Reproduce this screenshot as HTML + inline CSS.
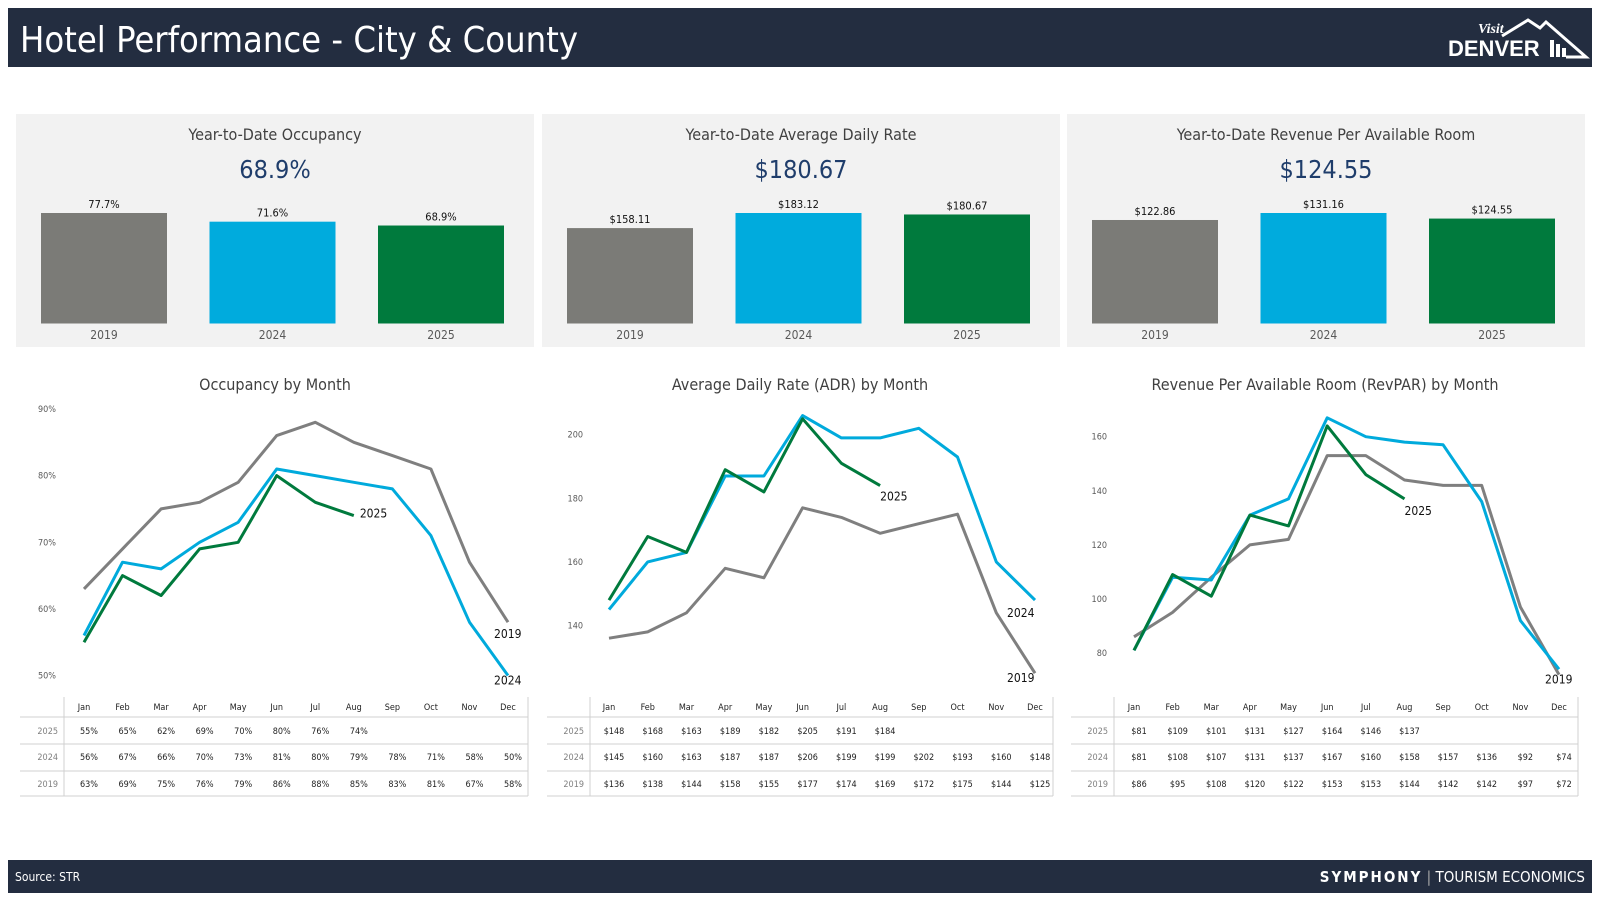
<!DOCTYPE html>
<html><head><meta charset="utf-8">
<style>
html,body{margin:0;padding:0;background:#fff;}
svg{display:block;font-family:"DejaVu Sans Condensed","Liberation Sans",sans-serif;}
</style></head>
<body>
<svg id="root" width="1600" height="900" viewBox="0 0 1600 900" xmlns="http://www.w3.org/2000/svg">
  <rect x="8" y="8" width="1584" height="59" fill="#232d40"/>
  <text x="20" y="52" font-size="36" fill="#fff">Hotel Performance - City &amp; County</text>
  <g>
    <text x="1478" y="33" font-size="14" font-style="italic" font-weight="bold" fill="#fff" font-family="Liberation Serif, serif">Visit</text>
    <text x="1448" y="56" font-size="22" font-weight="bold" fill="#fff" font-family="Liberation Sans, sans-serif">DENVER</text>
    <polyline points="1502,36 1528,20 1540,28 1546,22 1586,57 1566,57" fill="none" stroke="#fff" stroke-width="3"/>
    <rect x="1550" y="40" width="4" height="17" fill="#fff"/><rect x="1556" y="44" width="4" height="13" fill="#fff"/><rect x="1562" y="48" width="4" height="9" fill="#fff"/>
  </g>
  <rect x="8" y="860" width="1584" height="33" fill="#232d40"/>
  <text x="15" y="881" font-size="12" fill="#fff">Source: STR</text>
  <text x="1585" y="882" font-size="15" fill="#fff" text-anchor="end"><tspan font-weight="bold" letter-spacing="2">SYMPHONY</tspan><tspan fill="#aaa"> | </tspan>TOURISM ECONOMICS</text>
  <g id="content"></g>
</svg>
<script>
const years = ["2019","2024","2025"];
const months = ["Jan","Feb","Mar","Apr","May","Jun","Jul","Aug","Sep","Oct","Nov","Dec"];
const ytdOcc = [77.7, 71.6, 68.9];
const ytdAdr = [158.11, 183.12, 180.67];
const ytdRev = [122.86, 131.16, 124.55];
const occ2025 = [55,65,62,69,70,80,76,74];
const occ2024 = [56,67,66,70,73,81,80,79,78,71,58,50];
const occ2019 = [63,69,75,76,79,86,88,85,83,81,67,58];
const adr2025 = [148,168,163,189,182,205,191,184];
const adr2024 = [145,160,163,187,187,206,199,199,202,193,160,148];
const adr2019 = [136,138,144,158,155,177,174,169,172,175,144,125];
const rev2025 = [81,109,101,131,127,164,146,137];
const rev2024 = [81,108,107,131,137,167,160,158,157,136,92,74];
const rev2019 = [86,95,108,120,122,153,153,144,142,142,97,72];
const occTicks = [50,60,70,80,90];
const adrTicks = [140,160,180,200];
const revTicks = [80,100,120,140,160];

const NS = "http://www.w3.org/2000/svg";
const root = document.getElementById("content");
function mk(tag, attrs, parent, txt){
  const e = document.createElementNS(NS, tag);
  for (const k in attrs) e.setAttribute(k, attrs[k]);
  if (txt !== undefined) e.textContent = txt;
  (parent||root).appendChild(e);
  return e;
}
const barColors = ["#7b7b77","#00abdd","#007a3d"];
const lineColors = {"2019":"#7f7f7f","2024":"#00aadc","2025":"#007a3d"};

const cards = [
  {x:16, title:"Year-to-Date Occupancy", vals:ytdOcc, fmt:v=>v.toFixed(1)+"%", name:"occupancy"},
  {x:542, title:"Year-to-Date Average Daily Rate", vals:ytdAdr, fmt:v=>"$"+v.toFixed(2), name:"adr"},
  {x:1067, title:"Year-to-Date Revenue Per Available Room", vals:ytdRev, fmt:v=>"$"+v.toFixed(2), name:"revpar"}
];
cards.forEach(c=>{
  const g = mk("g",{});
  
  
  mk("rect",{x:c.x,y:114,width:518,height:233,fill:"#f2f2f2"},g);
  const t = mk("text",{x:c.x+259,y:140,"font-size":16,fill:"#404040","text-anchor":"middle"},g,c.title);
  
  
  const big = mk("text",{x:c.x+259,y:178,"font-size":25,fill:"#1f3d6b","text-anchor":"middle"},g,c.fmt(c.vals[2]));
  
  
  const maxV = Math.max(...c.vals);
  const base = 323.5, maxH = 110.5;
  c.vals.forEach((v,i)=>{
    const bx = c.x + 25 + i*168.5;
    const h = v/maxV*maxH;
    const r = mk("rect",{x:bx,y:base-h,width:126,height:h,fill:barColors[i]},g);
    
    
    const lb = mk("text",{x:bx+63,y:base-h-5,"font-size":11,fill:"#111","text-anchor":"middle"},g,c.fmt(v));
    
    
    const yl = mk("text",{x:bx+63,y:339,"font-size":12,fill:"#595959","text-anchor":"middle"},g,years[i]);
    
    
  });
});

const charts = [
  {name:"occupancy", title:"Occupancy by Month", cx:275, left:20, vline:64, right:528, x0:84, x11:508,
   v1:90, y1:409, v0:50, y0:675.5, ticks:occTicks, tickX:56, tfmt:v=>v+"%", cfmt:v=>v+"%",
   s:{"2025":occ2025,"2024":occ2024,"2019":occ2019},
   labels:{"2025":[6,-2,"start"],"2024":[-14,5,"start"],"2019":[-14,12,"start"]}},
  {name:"adr", title:"Average Daily Rate (ADR) by Month", cx:800, left:547, vline:590, right:1053, x0:609, x11:1035,
   v1:200, y1:434.7, v0:140, y0:625.5, ticks:adrTicks, tickX:583, tfmt:v=>""+v, cfmt:v=>"$"+v,
   s:{"2025":adr2025,"2024":adr2024,"2019":adr2019},
   labels:{"2025":[0,11,"start"],"2024":[-28,13,"start"],"2019":[-28,5,"start"]}},
  {name:"revpar", title:"Revenue Per Available Room (RevPAR) by Month", cx:1325, left:1071, vline:1114, right:1578, x0:1134, x11:1559,
   v1:160, y1:436.7, v0:80, y0:653, ticks:revTicks, tickX:1107, tfmt:v=>""+v, cfmt:v=>"$"+v,
   s:{"2025":rev2025,"2024":rev2024,"2019":rev2019},
   labels:{"2025":[0,12,"start"],"2019":[-14,5,"start"]}}
];
charts.forEach(ch=>{
  const g = mk("g",{});
  
  
  const xs = i => ch.x0 + i*(ch.x11-ch.x0)/11;
  const ys = v => ch.y0 + (v-ch.v0)*(ch.y1-ch.y0)/(ch.v1-ch.v0);
  const tt = mk("text",{x:ch.cx,y:390,"font-size":16,fill:"#404040","text-anchor":"middle"},g,ch.title);
  
  
  ch.ticks.forEach(v=>{
    const t = mk("text",{x:ch.tickX,y:ys(v)+3,"font-size":9,fill:"#595959","text-anchor":"end"},g,ch.tfmt(v));
    
    
  });
  ["2019","2024","2025"].forEach(yr=>{
    const d = ch.s[yr];
    const pts = d.map((v,i)=>xs(i).toFixed(1)+","+ys(v).toFixed(1)).join(" ");
    const pl = mk("polyline",{points:pts,fill:"none",stroke:lineColors[yr],"stroke-width":3,"stroke-linejoin":"round"},g);
    
    
    const lab = ch.labels[yr];
    if (lab){
      const li = d.length-1;
      const t = mk("text",{x:xs(li)+lab[0],y:ys(d[li])+lab[1]+4,"font-size":12,fill:"#111","text-anchor":lab[2]},g,yr);
      
      
    }
  });
  const tb = mk("g",{},g);
  
  
  mk("line",{x1:ch.vline,y1:697,x2:ch.vline,y2:796,stroke:"#d0d0d0","stroke-width":1},tb);
  mk("line",{x1:ch.right,y1:697,x2:ch.right,y2:796,stroke:"#d0d0d0","stroke-width":1},tb);
  [717,744,771,796].forEach(y=>mk("line",{x1:ch.left,y1:y,x2:ch.right,y2:y,stroke:"#d0d0d0","stroke-width":1},tb));
  months.forEach((m,i)=>{
    const t = mk("text",{x:xs(i),y:710,"font-size":9,fill:"#222","text-anchor":"middle"},tb,m);
    
    
  });
  [["2025",734],["2024",760],["2019",787]].forEach(([yr,y])=>{
    const rl = mk("text",{x:ch.vline-6,y:y,"font-size":9,fill:"#808080","text-anchor":"end"},tb,yr);
    
    
    ch.s[yr].forEach((v,i)=>{
      const c = mk("text",{x:xs(i)+5,y:y,"font-size":9,fill:"#222","text-anchor":"middle"},tb,ch.cfmt(v));
      
      
    });
  });
});
</script>
</body></html>
